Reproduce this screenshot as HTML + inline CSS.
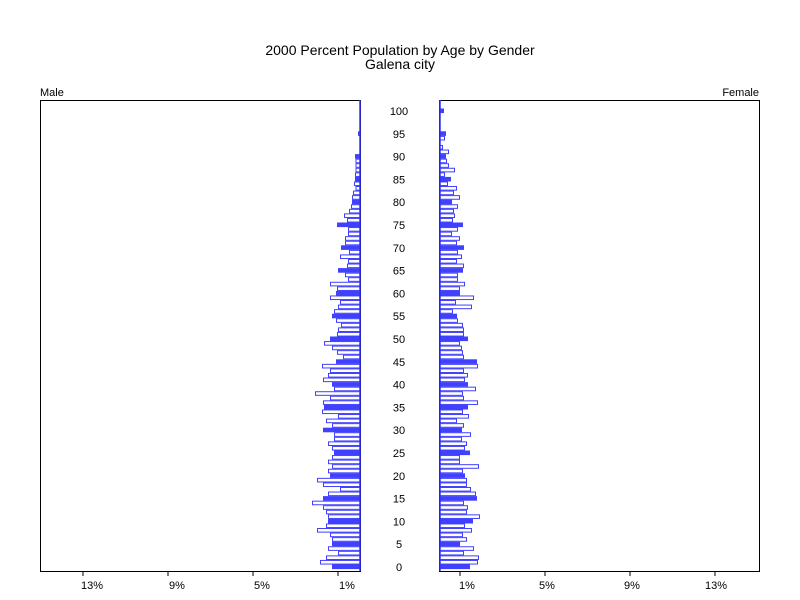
<!DOCTYPE html>
<html><head><meta charset="utf-8"><style>body{margin:0;background:#fff}svg{display:block}text{font-family:"Liberation Sans",Arial,sans-serif}</style></head>
<body>
<svg id="s" width="800" height="600" xmlns="http://www.w3.org/2000/svg">
<rect width="800" height="600" fill="#fff"/>
<text x="400" y="55" font-size="14" text-anchor="middle">2000 Percent Population by Age by Gender</text>
<text x="400" y="69" font-size="14" text-anchor="middle">Galena city</text>
<text x="40" y="96" font-size="11">Male</text>
<text x="759" y="96" font-size="11" text-anchor="end">Female</text>
<g id="bars"></g>
<rect x="40.5" y="100.5" width="320" height="471" fill="none" stroke="#000"/>
<rect x="439.5" y="100.5" width="320" height="471" fill="none" stroke="#000"/>
<line x1="360" y1="100" x2="360" y2="571" stroke="#3333ff" stroke-width="1.5"/>
<line x1="440" y1="100" x2="440" y2="571" stroke="#3333ff" stroke-width="1.5"/>
<g stroke="#000"><line x1="338" y1="571" x2="338" y2="576"/><line x1="253" y1="571" x2="253" y2="576"/><line x1="168" y1="571" x2="168" y2="576"/><line x1="83" y1="571" x2="83" y2="576"/>
<line x1="460" y1="571" x2="460" y2="576"/><line x1="545" y1="571" x2="545" y2="576"/><line x1="630" y1="571" x2="630" y2="576"/><line x1="715" y1="571" x2="715" y2="576"/></g>
<g font-size="11" text-anchor="middle"><text x="347" y="589">1%</text><text x="262" y="589">5%</text><text x="177" y="589">9%</text><text x="92" y="589">13%</text>
<text x="467" y="589">1%</text><text x="547" y="589">5%</text><text x="632" y="589">9%</text><text x="716" y="589">13%</text></g>
<g id="ages" font-size="11" text-anchor="middle"></g>
</svg>
<script>
var L={100:0,95:2,90:5,89:4.5,88:4.5,87:4.5,86:5,85:5,84:6,83:4.5,82:7,81:8,80:8,79:9,78:11,77:16,76:13,75:23,74:12,73:12,72:15,71:15,70:19,69:11,68:20,67:12,66:13,65:22,64:15,63:12,62:30,61:23,60:24,59:30,58:20,57:22,56:26,55:28,54:24,53:19,52:22,51:23,50:30,49:36,48:28,47:23,46:17,45:24,44:38,43:30,42:32,41:37,40:28,39:26,38:45,37:30,36:37,35:36,34:38,33:22,32:34,31:28,30:37,29:26,28:26,27:32,26:28,25:26,24:28,23:32,22:28,21:32,20:30,19:43,18:37,17:20,16:32,15:37,14:48,13:37,12:34,11:32,10:32,9:34,8:43,7:30,6:28,5:28,4:32,3:22,2:34,1:40,0:28};
var R={100:4,95:6,94:5,92:3,91:9,90:6,89:7,88:9,87:15,86:5,85:11,84:8,83:17,82:14,81:20,80:12,79:18,78:14,77:15,76:13,75:23,74:18,73:12,72:20,71:17,70:24,69:18,68:22,67:17,66:24,65:23,64:18,63:18,62:25,61:20,60:20,59:34,58:16,57:32,56:13,55:17,54:18,53:23,52:24,51:24,50:28,49:20,48:22,47:23,46:24,45:37,44:38,43:24,42:28,41:25,40:28,39:36,38:23,37:24,36:38,35:28,34:23,33:29,32:17,31:24,30:22,29:31,28:22,27:27,26:25,25:30,24:20,23:20,22:39,21:23,20:25,19:27,18:27,17:31,16:36,15:37,14:24,13:28,12:27,11:40,10:33,9:25,8:32,7:23,6:27,5:20,4:34,3:24,2:39,1:38,0:30};
var h='',ns='';
for(var a=0;a<=100;a++){var c=567-4.56*a,y=c-2.0,f=(a%5==0)?'#4040ff':'#fff';
var l=L[a]||0,r=R[a]||0;
if(l>0)h+='<rect x="'+(360-l+0.5)+'" y="'+y.toFixed(2)+'" width="'+l+'" height="3.6" fill="'+f+'" stroke="#4040ff" stroke-width="1"/>';
if(r>0)h+='<rect x="'+(439.5)+'" y="'+y.toFixed(2)+'" width="'+r+'" height="3.6" fill="'+f+'" stroke="#4040ff" stroke-width="1"/>';
if(a%5==0)ns+='<text x="399" y="'+(c+4).toFixed(1)+'">'+a+'</text>';}
document.getElementById('bars').innerHTML=h;document.getElementById('ages').innerHTML=ns;
</script>
</body></html>
